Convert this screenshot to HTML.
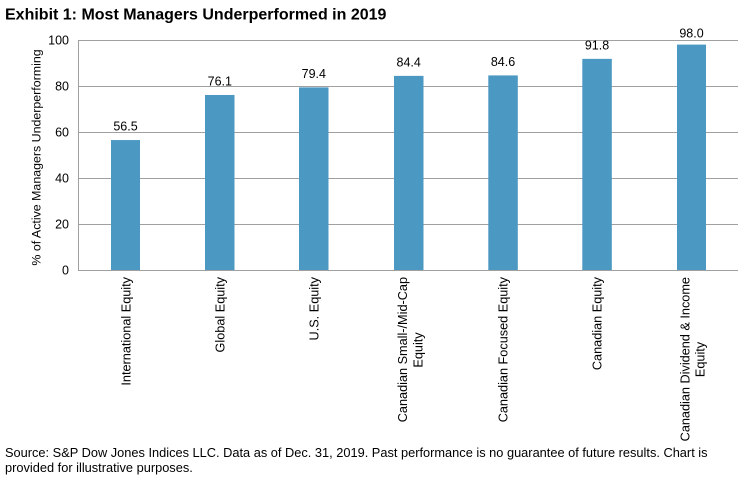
<!DOCTYPE html>
<html><head><meta charset="utf-8"><style>
html,body{margin:0;padding:0;background:#fff;}
svg{display:block;font-family:"Liberation Sans",Arial,sans-serif;}
</style></head><body>
<svg width="750" height="480" viewBox="0 0 750 480" xmlns="http://www.w3.org/2000/svg">
<rect width="750" height="480" fill="#fff"/>
<text x="5" y="19.5" font-size="16" font-weight="bold" fill="#000">Exhibit 1: Most Managers Underperformed in 2019</text>
<g stroke="#a0a0a0" stroke-width="1">
<line x1="78" y1="40.5" x2="738" y2="40.5"/>
<line x1="78" y1="86.5" x2="738" y2="86.5"/>
<line x1="78" y1="132.5" x2="738" y2="132.5"/>
<line x1="78" y1="178.5" x2="738" y2="178.5"/>
<line x1="78" y1="224.5" x2="738" y2="224.5"/>
<line x1="78" y1="270.5" x2="738" y2="270.5"/>
<line x1="78.5" y1="40" x2="78.5" y2="271"/>
</g>
<g font-size="12.5" fill="#000" text-anchor="end">
<text x="69" y="44.5">100</text>
<text x="69" y="90.5">80</text>
<text x="69" y="136.5">60</text>
<text x="69" y="182.5">40</text>
<text x="69" y="228.5">20</text>
<text x="69" y="274.5">0</text>
</g>
<text transform="translate(40.5,157.5) rotate(-90)" font-size="12.4" text-anchor="middle" fill="#000">% of Active Managers Underperforming</text>
<g fill="#4b98c2">
<rect x="111" y="140.05" width="29" height="129.95"/>
<rect x="205" y="94.97" width="29.5" height="175.03"/>
<rect x="299" y="87.38" width="29.5" height="182.62"/>
<rect x="394" y="75.88" width="29.5" height="194.12"/>
<rect x="488.3" y="75.42" width="29.5" height="194.58"/>
<rect x="582.3" y="58.86" width="29.5" height="211.14"/>
<rect x="677" y="44.6" width="29" height="225.4"/>
</g>
<g font-size="12.5" fill="#000" text-anchor="middle">
<text x="125.5" y="130.6">56.5</text>
<text x="219.8" y="85.5">76.1</text>
<text x="313.8" y="77.9">79.4</text>
<text x="408.7" y="66.4">84.4</text>
<text x="503" y="65.9">84.6</text>
<text x="597" y="49.4">91.8</text>
<text x="691.5" y="37.3">98.0</text>
</g>
<g font-size="12.7" fill="#000">
<text transform="translate(130.5,277) rotate(-90)" text-anchor="end">International Equity</text>
<text transform="translate(224.5,277) rotate(-90)" text-anchor="end">Global Equity</text>
<text transform="translate(318.5,277) rotate(-90)" text-anchor="end">U.S. Equity</text>
<text transform="translate(407,277) rotate(-90)" text-anchor="end">Canadian Small-/Mid-Cap</text>
<text transform="translate(422.5,350) rotate(-90)" text-anchor="middle">Equity</text>
<text transform="translate(507.5,277) rotate(-90)" text-anchor="end">Canadian Focused Equity</text>
<text transform="translate(601.5,277) rotate(-90)" text-anchor="end">Canadian Equity</text>
<text transform="translate(689.5,277) rotate(-90)" text-anchor="end">Canadian Dividend &amp; Income</text>
<text transform="translate(704.5,359.5) rotate(-90)" text-anchor="middle">Equity</text>
</g>
<g font-size="12.8" fill="#000">
<text x="5" y="457">Source: S&amp;P Dow Jones Indices LLC. Data as of Dec. 31, 2019. Past performance is no guarantee of future results. Chart is</text>
<text x="5" y="472">provided for illustrative purposes.</text>
</g>
</svg>
</body></html>
